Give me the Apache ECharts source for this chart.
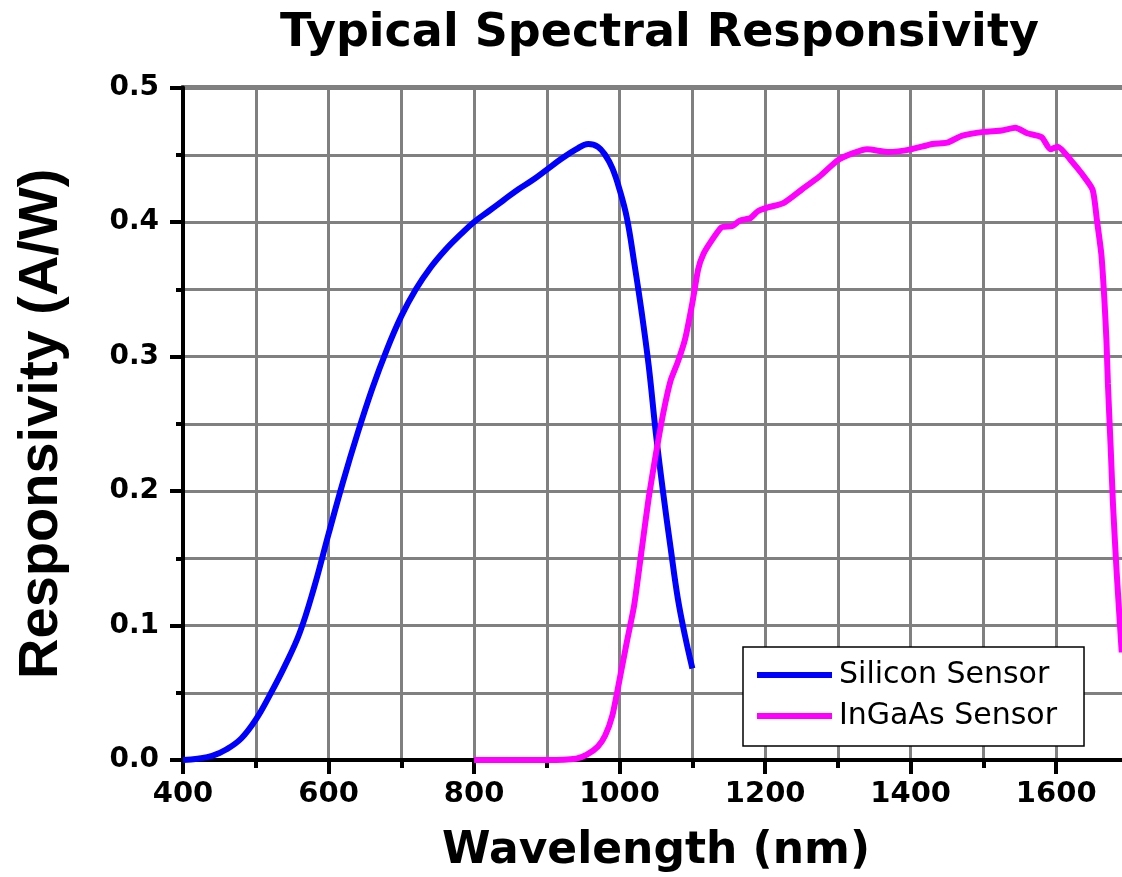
<!DOCTYPE html>
<html>
<head>
<meta charset="utf-8">
<script src="https://cdn.jsdelivr.net/npm/echarts@6/dist/echarts.min.js"></script>
<style>
 html, body { margin: 0; padding: 0; background: #fff; }
 #chart { width: 1122px; height: 877px; }
</style>
</head>
<body>
<div id="chart"></div>
<script>
// wavelength (nm) / responsivity (A/W)
var siliconNm = [400, 420, 440, 460, 480, 500, 520, 540, 560, 580, 600, 620, 640, 660, 680, 700, 720, 740, 760, 780,
 800, 820, 840, 860, 880, 900, 920, 940, 957, 970, 980, 990, 1000, 1010, 1020, 1030, 1040, 1050, 1060, 1070,
 1080, 1090, 1100];
var siliconResp = [0, 0.001, 0.003, 0.008, 0.016, 0.030, 0.049, 0.070, 0.094, 0.128, 0.168, 0.207, 0.243, 0.276, 0.305,
 0.330, 0.350, 0.366, 0.379, 0.390, 0.400, 0.408, 0.416, 0.424, 0.431, 0.439, 0.447, 0.454, 0.458, 0.456,
 0.450, 0.440, 0.424, 0.403, 0.370, 0.334, 0.293, 0.242, 0.198, 0.158, 0.120, 0.092, 0.068];

var ingaasNm = [800, 900, 940, 955, 970, 980, 990, 1000, 1010, 1020, 1030, 1040, 1050, 1060, 1070, 1080, 1090, 1100,
 1108, 1115, 1125, 1140, 1155, 1165, 1180, 1190, 1205, 1225, 1250, 1275, 1300, 1320, 1340, 1370, 1400,
 1430, 1450, 1470, 1500, 1525, 1544, 1560, 1580, 1592, 1602, 1620, 1635, 1650, 1656, 1662, 1666, 1669,
 1671, 1675, 1678, 1683, 1690];
var ingaasResp = [0, 0, 0.001, 0.004, 0.010, 0.018, 0.033, 0.060, 0.088, 0.115, 0.155, 0.195, 0.228, 0.258, 0.282,
 0.296, 0.313, 0.340, 0.365, 0.376, 0.385, 0.396, 0.397, 0.401, 0.403, 0.408, 0.411, 0.414, 0.424, 0.434,
 0.446, 0.451, 0.454, 0.452, 0.454, 0.458, 0.459, 0.464, 0.467, 0.468, 0.470, 0.466, 0.463, 0.454, 0.456,
 0.446, 0.436, 0.424, 0.401, 0.376, 0.344, 0.312, 0.280, 0.230, 0.190, 0.140, 0.080];

function pairs(xs, ys) {
 return xs.map(function (x, i) { return [x, ys[i]]; });
}

var myChart = echarts.init(document.getElementById('chart'));

var grey = { color: '#808080', width: 3 };

option = {
 animation: false,
 backgroundColor: '#fff',
 title: {
  text: 'Typical Spectral Responsivity',
  left: 275,
  top: 6,
  textStyle: { fontFamily: 'DejaVu Sans', fontWeight: 'bold', fontSize: 46, color: '#000' }
 },
 grid: {
  left: 183, top: 87.5, width: 946, height: 672.5,
  outerBoundsMode: 'none',
  containLabel: false,
  show: true, borderColor: '#000', borderWidth: 4, backgroundColor: 'transparent'
 },
 legend: {
  orient: 'vertical',
  left: 743, top: 647,
  padding: [13, 27, 15, 14],
  itemGap: 11,
  itemWidth: 75, itemHeight: 6,
  icon: 'rect',
  backgroundColor: '#fff',
  borderColor: '#000', borderWidth: 1.5,
  textStyle: { fontFamily: 'DejaVu Sans', fontSize: 30, color: '#000', padding: [0, 0, 0, 2] },
  data: ['Silicon Sensor', 'InGaAs Sensor']
 },
 xAxis: {
  type: 'value',
  min: 400, max: 1700, interval: 200,
  name: 'Wavelength (nm)',
  nameLocation: 'middle',
  nameGap: 70,
  nameTextStyle: { fontFamily: 'DejaVu Sans', fontWeight: 'bold', fontSize: 44, color: '#000' },
  axisLine: { lineStyle: { color: '#000', width: 4 } },
  axisTick: { show: true, length: 14, lineStyle: { color: '#000', width: 4 } },
  minorTick: { show: true, splitNumber: 2, length: 8, lineStyle: { color: '#000', width: 4 } },
  axisLabel: {
   margin: 20, fontFamily: 'DejaVu Sans', fontWeight: 'bold', fontSize: 29, color: '#000',
   showMaxLabel: false,
   formatter: function (v) { return v > 1650 ? '' : String(v); }
  },
  splitLine: { show: true, lineStyle: grey },
  minorSplitLine: { show: true, lineStyle: grey }
 },
 yAxis: {
  type: 'value',
  min: 0, max: 0.5, interval: 0.1,
  name: 'Responsivity (A/W)',
  nameLocation: 'middle',
  nameGap: 113,
  nameTextStyle: { fontFamily: 'Liberation Sans', fontWeight: 'bold', fontSize: 56, color: '#000' },
  axisLine: { show: true, lineStyle: { color: '#000', width: 4 } },
  axisTick: { show: true, length: 13, lineStyle: { color: '#000', width: 4 } },
  minorTick: { show: true, splitNumber: 2, length: 7, lineStyle: { color: '#000', width: 4 } },
  axisLabel: {
   margin: 24, fontFamily: 'DejaVu Sans', fontWeight: 'bold', fontSize: 28, color: '#000',
   formatter: function (v) { return v.toFixed(1); }
  },
  splitLine: { show: true, lineStyle: grey },
  minorSplitLine: { show: true, lineStyle: grey }
 },
 series: [
  {
   name: 'Silicon Sensor',
   type: 'line',
   symbol: 'none',
   smooth: 0.4,
   color: '#0000ff',
   lineStyle: { color: '#0000ff', width: 6 },
   data: pairs(siliconNm, siliconResp)
  },
  {
   name: 'InGaAs Sensor',
   type: 'line',
   symbol: 'none',
   smooth: 0.2,
   color: '#ff00ff',
   lineStyle: { color: '#ff00ff', width: 6 },
   data: pairs(ingaasNm, ingaasResp)
  }
 ]
};

myChart.setOption(option);
</script>
</body>
</html>
